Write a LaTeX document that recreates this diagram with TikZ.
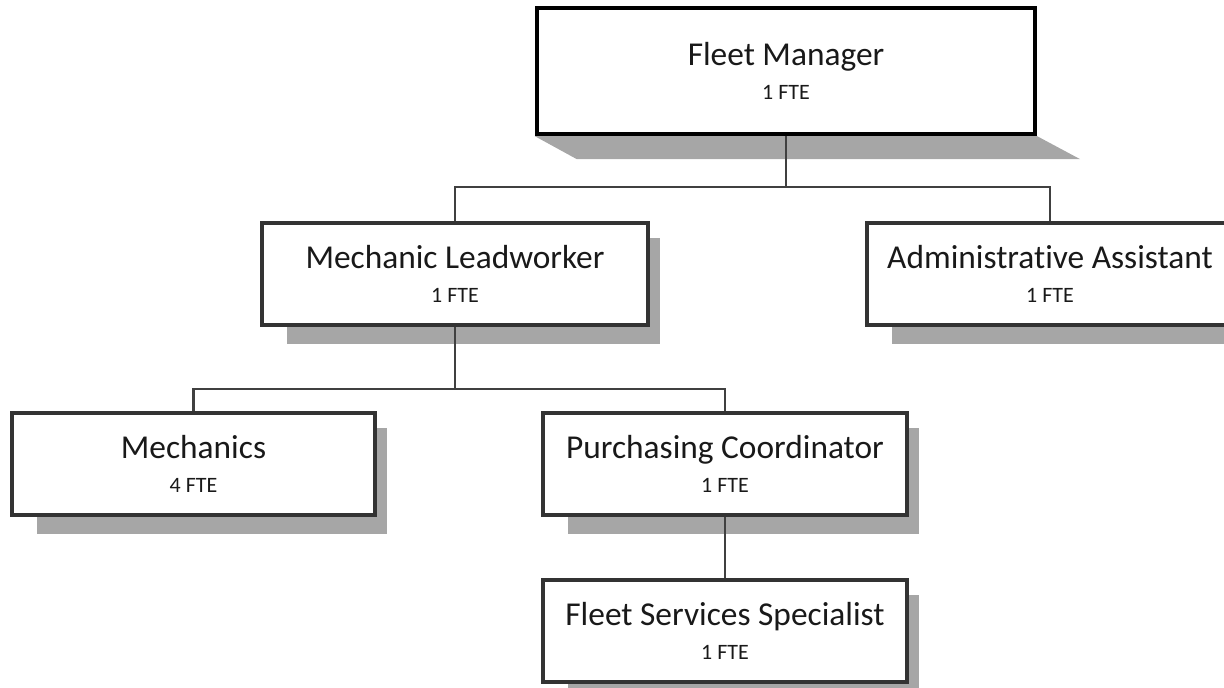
\documentclass[tikz,border=0pt]{standalone}
\usepackage{fontspec}
\setmainfont{Carlito}[Ligatures=CommonOff]
\usetikzlibrary{calc, backgrounds}
\definecolor{mShadow}{HTML}{A6A6A6}
\definecolor{mLine}{HTML}{404040}
\definecolor{mBorder}{HTML}{333333}
\newcommand{\roletext}[2]{{\fontsize{19}{19}\selectfont #1}\\{\fontsize{12.5}{19}\selectfont #2}}

\begin{document}
\begin{tikzpicture}[x=0.02cm, y=-0.02cm,
    role/.style={draw=mBorder, line width=1.9pt, fill=white, align=center, inner sep=0pt,
      minimum height=2.04cm, font=\fontsize{12.5}{19}\selectfont, text=black!90},
    topbox/.style={role, draw=black, line width=2.5pt, minimum height=2.52cm},
    link/.style={draw=mLine, line width=1.3pt},
    shade/.style={fill=mShadow}]
    \useasboundingbox (0,0) rectangle (1224,687);
    \clip (0,0) rectangle (1224,687);

    \node[topbox, minimum width=9.96cm] (fm) at (786,71) {\roletext{Fleet Manager}{1 FTE}};
    \node[role, minimum width=7.72cm] (lead) at (455,274) {\roletext{Mechanic Leadworker}{1 FTE}};
    \node[role, minimum width=7.32cm] (admin) at (1050,274) {\roletext{Administrative Assistant}{1 FTE}};
    \node[role, minimum width=7.26cm] (mech) at (193.5,464) {\roletext{Mechanics}{4 FTE}};
    \node[role, minimum width=7.28cm] (purch) at (725,464) {\roletext{Purchasing Coordinator}{1 FTE}};
    \node[role, minimum width=7.28cm] (fss) at (725,631) {\roletext{Fleet Services Specialist}{1 FTE}};

    \coordinate (j1) at (fm.south |- 0,187);
    \coordinate (j2) at (lead.south |- 0,389);

    \begin{pgfonlayer}{background}
      \fill[shade] (fm.south west) -- (fm.south east) -- ($(fm.south east)+(43,23)$) -- ($(fm.south west)+(42,23)$) -- cycle;
      \foreach \b in {lead, admin, mech, purch, fss}
        \fill[shade] ($(\b.south west)+(27,17)$) rectangle ($(\b.north east)+(10,17)$);
      \draw[link] (fm.south) -- (j1);
      \draw[link] (lead.north) |- (j1) -| (admin.north);
      \draw[link] (lead.south) -- (j2);
      \draw[link] (mech.north) |- (j2) -| (purch.north);
      \draw[link] (purch.south) -- (fss.north);
    \end{pgfonlayer}
\end{tikzpicture}
\end{document}
